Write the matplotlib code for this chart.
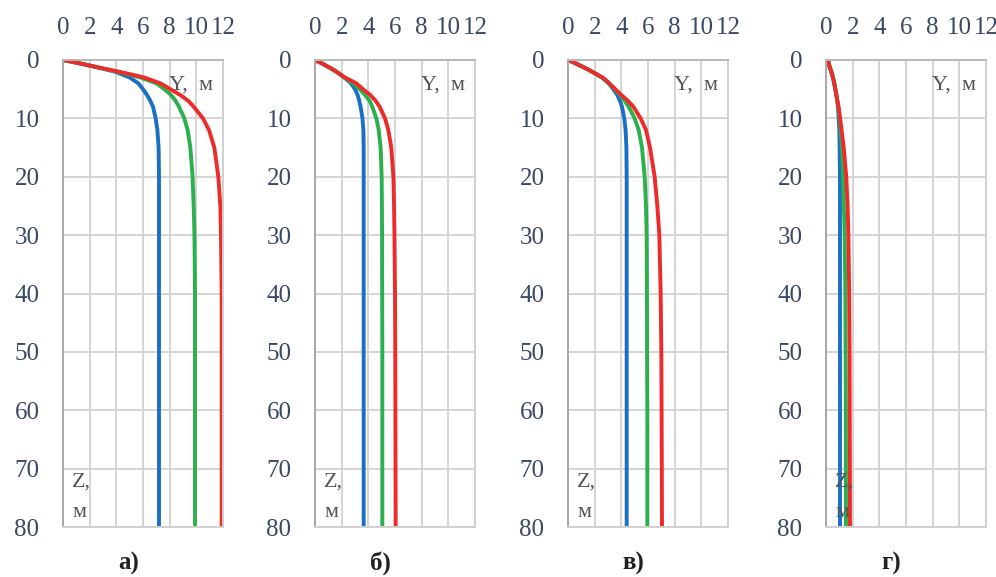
import matplotlib
matplotlib.use("Agg")
import matplotlib.pyplot as plt

Z = [0, 0.5, 1, 1.5, 2, 3, 4, 5, 6, 7, 8, 10, 12, 15, 20, 25, 30, 40, 50, 60, 80]

# panel a
a_blue = [0, 1.1, 2.1, 3.0, 3.9, 5.0, 5.65, 6.0, 6.3, 6.55, 6.75, 6.95, 7.08, 7.17, 7.2, 7.2, 7.2, 7.2, 7.2, 7.2, 7.2]
a_green = [0, 1.1, 2.1, 3.1, 4.1, 5.8, 7.0, 7.6, 8.1, 8.45, 8.7, 9.1, 9.35, 9.55, 9.72, 9.8, 9.86, 9.9, 9.9, 9.9, 9.9]
a_red = [0, 1.1, 2.1, 3.1, 4.2, 6.1, 7.3, 8.05, 8.8, 9.4, 9.8, 10.5, 10.95, 11.35, 11.65, 11.8, 11.85, 11.9, 11.9, 11.9, 11.9]

# panel b
b_blue = [0, 0.45, 0.85, 1.25, 1.6, 2.2, 2.7, 3.0, 3.2, 3.32, 3.42, 3.56, 3.63, 3.65, 3.65, 3.65, 3.65, 3.65, 3.65, 3.65, 3.65]
b_green = [0, 0.45, 0.85, 1.25, 1.6, 2.2, 2.85, 3.35, 3.75, 4.1, 4.3, 4.6, 4.78, 4.92, 5.0, 5.02, 5.03, 5.04, 5.05, 5.05, 5.05]
b_red = [0, 0.45, 0.85, 1.25, 1.6, 2.25, 3.1, 3.6, 4.15, 4.55, 4.85, 5.25, 5.5, 5.72, 5.88, 5.93, 5.96, 6.0, 6.02, 6.03, 6.05]

# panel c
c_blue = [0, 0.5, 0.95, 1.4, 1.8, 2.55, 3.05, 3.4, 3.7, 3.9, 4.05, 4.22, 4.32, 4.38, 4.4, 4.4, 4.4, 4.4, 4.4, 4.4, 4.4]
c_green = [0, 0.5, 0.95, 1.4, 1.8, 2.55, 3.1, 3.5, 3.9, 4.25, 4.55, 5.0, 5.3, 5.55, 5.75, 5.85, 5.9, 5.92, 5.93, 5.95, 5.95]
c_red = [0, 0.5, 0.95, 1.4, 1.8, 2.6, 3.1, 3.55, 4.0, 4.5, 4.9, 5.45, 5.85, 6.15, 6.5, 6.7, 6.85, 6.95, 7.0, 7.02, 7.05]

# panel d
d_blue = [0.15, 0.2, 0.25, 0.32, 0.4, 0.52, 0.62, 0.7, 0.78, 0.84, 0.9, 0.95, 1.0, 1.02, 1.05, 1.05, 1.05, 1.05, 1.05, 1.05, 1.05]
d_green = [0.15, 0.2, 0.25, 0.32, 0.4, 0.52, 0.62, 0.7, 0.78, 0.85, 0.92, 1.02, 1.1, 1.2, 1.28, 1.34, 1.4, 1.45, 1.47, 1.49, 1.5]
d_red = [0.15, 0.2, 0.25, 0.32, 0.4, 0.52, 0.62, 0.7, 0.78, 0.86, 0.94, 1.06, 1.17, 1.33, 1.52, 1.62, 1.68, 1.74, 1.77, 1.78, 1.8]

panels = [
    ("а)", a_blue, a_green, a_red),
    ("б)", b_blue, b_green, b_red),
    ("в)", c_blue, c_green, c_red),
    ("г)", d_blue, d_green, d_red),
]
lefts = [63, 315, 568, 826]

W, H = 996, 577
tick_color = "#3a4866"
text_color = "#555555"

plt.rcParams["font.family"] = ["Liberation Serif", "DejaVu Serif"]

fig = plt.figure(figsize=(W / 100, H / 100), dpi=100)

for (name, blue, green, red), left in zip(panels, lefts):
    ax = fig.add_axes([left / W, (H - 527) / H, 160 / W, 467 / H])
    ax.plot(blue, Z, color="#1a6fc4", lw=2.8, solid_joinstyle="round")
    ax.plot(green, Z, color="#2bb04e", lw=2.8, solid_joinstyle="round")
    ax.plot(red, Z, color="#ee2b2b", lw=2.8, solid_joinstyle="round")
    ax.set_xlim(0, 12)
    ax.set_ylim(80, 0)
    ax.set_xticks(range(0, 13, 2))
    ax.set_yticks(range(0, 81, 10))
    ax.xaxis.tick_top()
    ax.tick_params(length=0, labelsize=18, colors=tick_color)
    ax.tick_params(axis="x", pad=15)
    ax.tick_params(axis="y", pad=17)
    ax.grid(True, color="#d4d4d4", lw=1.4)
    ax.set_axisbelow(True)
    for s in ax.spines.values():
        s.set_color("#d0d0d0")
        s.set_linewidth(1.4)
    ax.spines["left"].set_color("#a8a8a8")
    ax.spines["top"].set_color("#b8b8b8")
    ax.text(0.94, 0.946, "Y,  м", transform=ax.transAxes, ha="right", va="center",
            fontsize=16, color=text_color)
    ax.text(0.055, 0.096, "Z,", transform=ax.transAxes, ha="left", va="center",
            fontsize=16, color=text_color)
    ax.text(0.06, 0.03, "м", transform=ax.transAxes, ha="left", va="center",
            fontsize=16, color=text_color)
    ax.text(0.41, -0.078, name, transform=ax.transAxes, ha="center", va="center",
            fontsize=18, fontweight="bold", color="#222222")

fig.savefig("out.png", dpi=100)
